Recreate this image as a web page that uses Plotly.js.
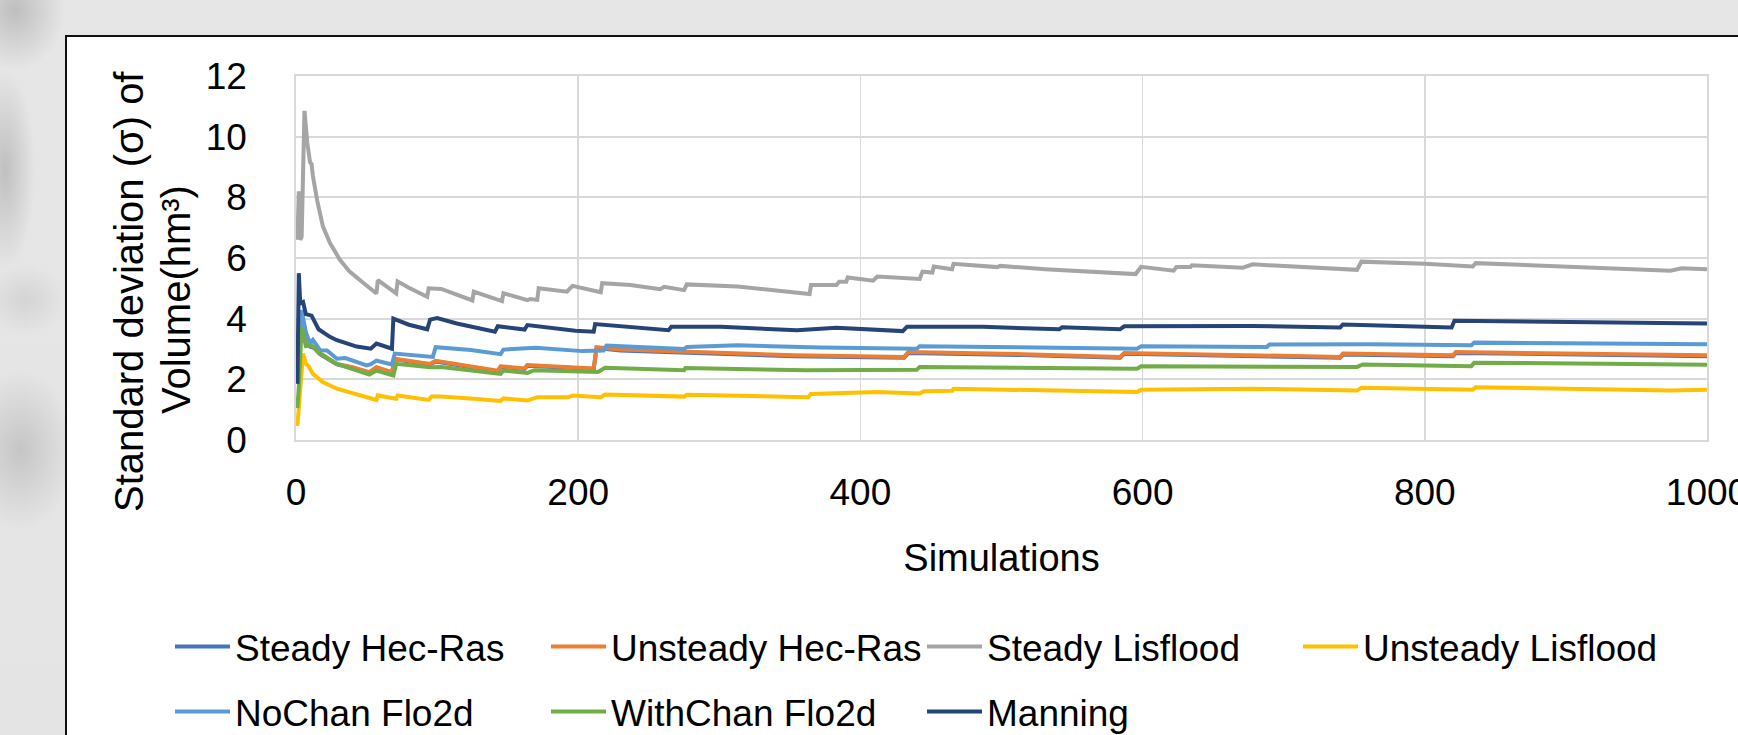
<!DOCTYPE html>
<html>
<head>
<meta charset="utf-8">
<script src="https://cdn.plot.ly/plotly-3.0.1.min.js"></script>
<style>
  html, body { margin: 0; padding: 0; }
  body {
    width: 1738px; height: 735px; overflow: hidden; position: relative;
    background:
      radial-gradient(ellipse 50px 60px at 15px 10px, rgba(130,130,130,0.4), rgba(130,130,130,0)),
      radial-gradient(ellipse 30px 100px at 5px 170px, rgba(120,120,120,0.35), rgba(120,120,120,0)),
      radial-gradient(ellipse 40px 35px at 25px 300px, rgba(160,160,160,0.25), rgba(160,160,160,0)),
      radial-gradient(ellipse 55px 80px at 20px 450px, rgba(150,150,150,0.4), rgba(150,150,150,0)),
      linear-gradient(180deg, #e6e6e6 0%, #e4e4e4 100%);
  }
  #frame {
    position: absolute; left: 65px; top: 35px; width: 1700px; height: 720px;
    background: #ffffff; border-left: 2px solid #111; border-top: 2px solid #111;
  }
  #chart { position: absolute; left: 0; top: 0; width: 1738px; height: 800px; }
</style>
</head>
<body>
<div id="frame"></div>
<div id="chart"></div>
<script>
// Running standard deviation of flood volume (hm³) against number of simulations.
// Each series is a list of [simulation, sigma] vertices.
const steadyHecRas = [[1,1.9],[3,3.3],[5,3.72],[8,3.28],[10,3.08],[13,3.03],[17,2.83],[29,2.49],[40,2.38],[52,2.22],[57,2.38],[68,2.22],[70,2.66],[95,2.49],[99,2.59],[143,2.26],[145,2.41],[162,2.34],[164,2.45],[211,2.34],[213,3.03],[230,2.95],[275,2.87],[353,2.76],[431,2.71],[434,2.87],[515,2.8],[584,2.71],[587,2.84],[740,2.71],[742,2.82],[820,2.76],[822,2.87],[1000,2.76]];
const unsteadyHecRas = [[1,1.9],[3,3.3],[5,3.75],[8,3.3],[10,3.1],[13,3.05],[17,2.85],[29,2.51],[40,2.4],[52,2.24],[57,2.4],[68,2.24],[70,2.68],[95,2.51],[99,2.61],[143,2.28],[145,2.43],[162,2.36],[164,2.47],[211,2.36],[213,3.06],[230,2.98],[275,2.9],[353,2.79],[431,2.74],[434,2.9],[515,2.83],[584,2.74],[587,2.87],[740,2.74],[742,2.85],[820,2.79],[822,2.9],[1000,2.79]];
const steadyLisflood = [[1,6.6],[2,8.2],[3,6.6],[4,6.7],[6,10.85],[8,9.8],[10,9.15],[11,9.1],[12,8.7],[15,7.9],[19,7.05],[24,6.5],[31,5.95],[38,5.55],[48,5.17],[57,4.83],[58,5.27],[71,4.83],[72,5.23],[80,5.02],[93,4.72],[94,5.0],[103,4.98],[125,4.6],[126,4.89],[146,4.58],[147,4.84],[164,4.61],[166,4.65],[171,4.62],[172,5.0],[182,4.94],[192,4.89],[196,5.08],[216,4.87],[217,5.17],[237,5.11],[258,4.97],[261,5.05],[275,4.94],[277,5.13],[313,5.06],[364,4.81],[365,5.11],[383,5.11],[385,5.22],[390,5.22],[391,5.36],[409,5.25],[412,5.39],[428,5.33],[442,5.31],[444,5.55],[451,5.52],[452,5.72],[465,5.63],[466,5.81],[497,5.7],[499,5.74],[531,5.63],[595,5.47],[599,5.71],[622,5.58],[624,5.7],[634,5.7],[635,5.76],[671,5.68],[678,5.79],[752,5.61],[755,5.88],[800,5.81],[834,5.72],[836,5.83],[872,5.76],[974,5.58],[982,5.66],[1000,5.63]];
const unsteadyLisflood = [[1,0.47],[2,1.0],[3,1.5],[5,2.85],[7,2.51],[9,2.43],[12,2.18],[19,1.91],[29,1.69],[41,1.52],[57,1.32],[58,1.47],[71,1.36],[72,1.47],[94,1.32],[96,1.43],[103,1.43],[126,1.36],[145,1.29],[147,1.37],[164,1.3],[171,1.41],[193,1.41],[196,1.47],[216,1.41],[219,1.5],[275,1.43],[277,1.49],[363,1.41],[365,1.52],[391,1.55],[412,1.58],[442,1.53],[445,1.61],[465,1.62],[466,1.69],[596,1.58],[599,1.66],[678,1.69],[752,1.63],[755,1.72],[834,1.66],[836,1.74],[974,1.63],[1000,1.66]];
const noChanFlo2d = [[1,1.9],[2,2.5],[3,3.6],[4,4.28],[7,3.55],[10,3.18],[12,3.3],[17,2.96],[22,2.95],[29,2.68],[35,2.7],[50,2.46],[53,2.5],[57,2.62],[68,2.49],[70,2.85],[97,2.74],[99,3.06],[124,2.97],[145,2.83],[147,2.98],[170,3.04],[203,2.93],[218,2.95],[220,3.11],[275,3.0],[277,3.07],[313,3.12],[372,3.05],[440,3.01],[442,3.09],[596,3.01],[599,3.09],[688,3.07],[690,3.15],[761,3.16],[833,3.12],[835,3.21],[1000,3.16]];
const withChanFlo2d = [[1,1.05],[2,1.75],[4,3.73],[7,3.1],[11,3.12],[17,2.85],[29,2.51],[40,2.33],[52,2.16],[57,2.29],[69,2.13],[71,2.51],[95,2.4],[103,2.41],[145,2.18],[147,2.29],[164,2.21],[169,2.3],[214,2.24],[219,2.38],[275,2.3],[276,2.37],[362,2.3],[440,2.32],[442,2.41],[596,2.35],[599,2.43],[752,2.41],[756,2.49],[833,2.43],[835,2.55],[1000,2.48]];
const manning = [[1,1.85],[2,5.5],[3,4.5],[5,4.55],[7,4.15],[11,4.1],[16,3.65],[24,3.4],[29,3.29],[43,3.08],[53,3.01],[57,3.18],[68,3.01],[69,4.0],[80,3.8],[93,3.65],[95,3.97],[100,4.02],[114,3.84],[141,3.57],[143,3.75],[162,3.64],[164,3.79],[198,3.6],[211,3.57],[212,3.82],[264,3.62],[266,3.73],[301,3.73],[355,3.62],[383,3.7],[430,3.59],[433,3.73],[487,3.73],[541,3.65],[543,3.72],[584,3.65],[587,3.75],[678,3.76],[740,3.71],[742,3.81],[819,3.71],[821,3.93],[872,3.9],[957,3.84],[1000,3.84]];

const seriesNames = ['Steady Hec-Ras','Unsteady Hec-Ras','Steady Lisflood','Unsteady Lisflood','NoChan Flo2d','WithChan Flo2d','Manning'];
const seriesData = [steadyHecRas, unsteadyHecRas, steadyLisflood, unsteadyLisflood, noChanFlo2d, withChanFlo2d, manning];
const seriesColors = ['#4472C4','#ED7D31','#A5A5A5','#FFC000','#5B9BD5','#70AD47','#264478'];
const xTicks = [0, 200, 400, 600, 800, 1000];
const yTicks = [0, 2, 4, 6, 8, 10, 12];
const yTitleLines = ['Standard deviation (σ) of', 'Volume(hm³)'];

const FONT = 'Liberation Sans, Arial, sans-serif';

const traces = seriesData.map((pts, i) => ({
  type: 'scatter',
  mode: 'lines',
  name: seriesNames[i],
  x: pts.map(p => p[0]),
  y: pts.map(p => p[1]),
  line: { color: seriesColors[i], width: 4 },
  legend: i < 4 ? 'legend' : 'legend2',
  hoverinfo: 'x+y+name'
}));

// The figure is drawn a little taller than the window so the lower legend row is not pushed up.
const W = 1738, H = 800;
const L = 296, R = 31, T = 76, B = 360;
const PW = W - L - R, PH = H - T - B;
const px2x = px => (px - L) / PW;
const py2y = py => (H - B - py) / PH;

const legendCommon = {
  orientation: 'h',
  xanchor: 'left', yanchor: 'top',
  font: { family: FONT, size: 37, color: '#000' },
  bgcolor: 'rgba(0,0,0,0)',
  itemwidth: 55,
  entrywidth: 306,
  traceorder: 'normal'
};

const layout = {
  width: W, height: H,
  margin: { l: L, r: R, t: T, b: B },
  paper_bgcolor: 'rgba(0,0,0,0)',
  plot_bgcolor: '#ffffff',
  font: { family: FONT, color: '#000' },
  showlegend: true,
  xaxis: {
    range: [0, 1000],
    tickvals: xTicks,
    ticktext: xTicks.map(String),
    tickfont: { family: FONT, size: 37, color: '#000' },
    ticklabelstandoff: 19,
    ticklabeloverflow: 'allow',
    showgrid: true, gridcolor: '#d9d9d9', gridwidth: 1.7,
    showline: true, linecolor: '#d9d9d9', linewidth: 1.7, mirror: true,
    zeroline: false, ticks: '',
    title: { text: 'Simulations', font: { family: FONT, size: 38, color: '#000' }, standoff: 32 },
    automargin: false, fixedrange: true
  },
  yaxis: {
    range: [0, 12],
    tickvals: yTicks,
    ticktext: yTicks.map(String),
    tickfont: { family: FONT, size: 37, color: '#000' },
    ticklabelstandoff: 40,
    showgrid: true, gridcolor: '#d9d9d9', gridwidth: 1.7,
    showline: true, linecolor: '#d9d9d9', linewidth: 1.7, mirror: true,
    zeroline: false, ticks: '',
    automargin: false, fixedrange: true
  },
  legend: Object.assign({}, legendCommon, { x: px2x(170), y: py2y(616) }),
  legend2: Object.assign({}, legendCommon, { x: px2x(170), y: py2y(681) }),
  annotations: [
    { text: yTitleLines[0], x: px2x(129), y: py2y(292) },
    { text: yTitleLines[1], x: px2x(176), y: py2y(300) }
  ].map(a => Object.assign(a, {
    textangle: -90,
    xref: 'paper', yref: 'paper',
    xanchor: 'center', yanchor: 'middle',
    showarrow: false,
    font: { family: FONT, size: 40, color: '#000' }
  }))
};

Plotly.newPlot('chart', traces, layout, { displayModeBar: false, staticPlot: true });
</script>
</body>
</html>
